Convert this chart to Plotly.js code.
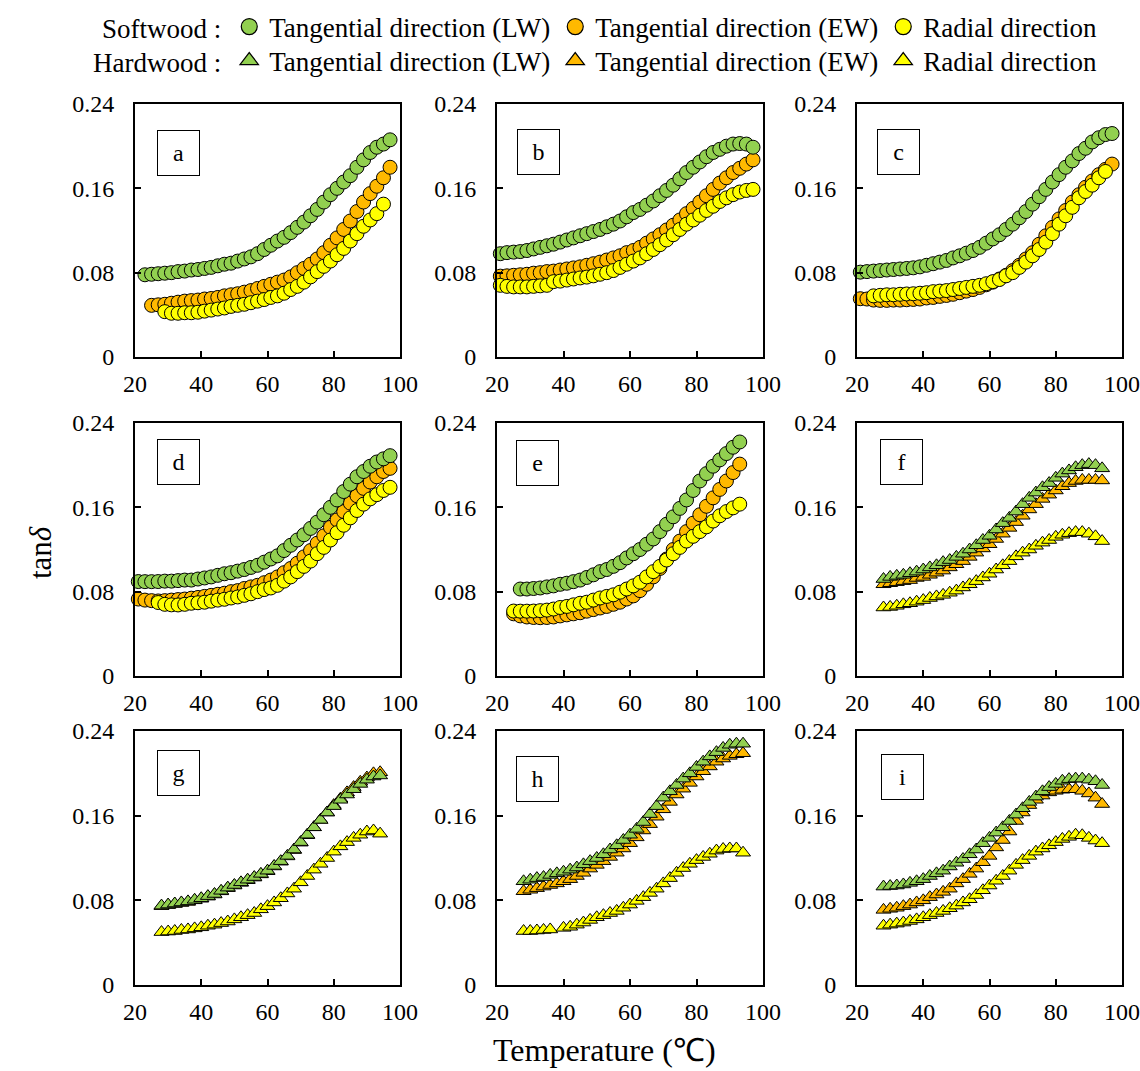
<!DOCTYPE html>
<html><head><meta charset="utf-8">
<script src="https://cdn.plot.ly/plotly-3.0.1.min.js"></script>
<style>html,body{margin:0;padding:0;background:#fff}</style>
</head><body><div id="chart" style="width:1140px;height:1071px"></div>
<script>
// Temperatures (°C)
const T_soft = [21,23,25,27,29,31,33,35,37,39,41,43,45,47,49,51,53,55,57,59,61,63,65,67,69,71,73,75,77,79,81,83,85,87,89,91,93,95,97];
const T_hard = [28,30,32,34,36,38,40,42,44,46,48,50,52,54,56,58,60,62,64,66,68,70,72,74,76,78,80,82,84,86,88,90,92,94];

const panelLabels = ['a','b','c','d','e','f','g','h','i'];
const seriesNames = ['Tangential direction (LW)','Tangential direction (EW)','Radial direction'];
const groupNames = ['Softwood :','Hardwood :'];
const xTicks = [20,40,60,80,100];
const yTicks = [0,0.08,0.16,0.24];
const yTickText = ['0','0.08','0.16','0.24'];

// tanδ values — softwood (circles)
const a_LW = [null,0.078,0.0785,0.079,0.0795,0.080,0.081,0.0815,0.0825,0.083,0.084,0.085,0.0865,0.088,0.089,0.091,0.093,0.095,0.098,0.102,0.106,0.110,0.1135,0.118,0.123,0.128,0.134,0.140,0.147,0.154,0.160,0.166,0.172,0.180,0.187,0.194,0.199,0.202,0.206];
const a_EW = [null,null,0.049,0.0495,0.050,0.051,0.052,0.053,0.0535,0.054,0.055,0.0555,0.0565,0.058,0.059,0.060,0.0615,0.063,0.065,0.067,0.069,0.071,0.073,0.076,0.080,0.084,0.088,0.093,0.099,0.106,0.113,0.121,0.129,0.138,0.147,0.155,0.162,0.170,0.180];
const a_R  = [null,null,null,null,0.043,0.0415,0.0415,0.042,0.042,0.0425,0.0435,0.0445,0.0455,0.0465,0.048,0.049,0.050,0.0515,0.053,0.0545,0.0565,0.058,0.0605,0.064,0.067,0.071,0.076,0.081,0.086,0.091,0.097,0.103,0.110,0.117,0.124,0.130,0.136,0.145,null];

const b_LW = [0.098,0.099,0.0995,0.100,0.101,0.1025,0.104,0.1055,0.107,0.109,0.111,0.113,0.115,0.117,0.119,0.121,0.1235,0.126,0.129,0.133,0.137,0.140,0.144,0.148,0.153,0.158,0.163,0.169,0.175,0.180,0.185,0.190,0.194,0.197,0.200,0.202,0.2025,0.202,0.199];
const b_EW = [0.0767,0.077,0.0775,0.078,0.0785,0.0795,0.080,0.081,0.0815,0.0825,0.0835,0.0845,0.0855,0.087,0.0885,0.090,0.092,0.094,0.096,0.099,0.101,0.104,0.108,0.112,0.116,0.1205,0.125,0.130,0.136,0.141,0.147,0.153,0.159,0.165,0.170,0.175,0.179,0.183,0.187];
const b_R  = [0.068,0.067,0.0665,0.0665,0.0665,0.067,0.0675,0.068,0.0715,0.072,0.073,0.074,0.075,0.0758,0.077,0.0785,0.080,0.082,0.085,0.088,0.091,0.094,0.098,0.102,0.1065,0.111,0.116,0.121,0.126,0.130,0.1345,0.139,0.143,0.1475,0.151,0.154,0.1565,0.158,0.159];

const c_LW = [0.0805,0.081,0.0815,0.082,0.0825,0.083,0.0835,0.084,0.0846,0.0855,0.087,0.0885,0.090,0.0916,0.094,0.096,0.0985,0.101,0.104,0.108,0.112,0.116,0.121,0.126,0.132,0.138,0.145,0.152,0.159,0.166,0.173,0.180,0.186,0.193,0.198,0.204,0.208,0.211,0.212];
const c_EW = [0.0553,0.055,0.054,0.0537,0.0537,0.054,0.054,0.0543,0.0546,0.055,0.056,0.0565,0.0575,0.0584,0.0595,0.061,0.0625,0.064,0.066,0.0685,0.071,0.074,0.0775,0.082,0.087,0.093,0.099,0.107,0.115,0.123,0.131,0.139,0.147,0.154,0.161,0.167,0.173,0.178,0.183];
const c_R  = [null,null,0.058,0.0585,0.059,0.059,0.0595,0.0598,0.060,0.0605,0.061,0.062,0.0625,0.063,0.064,0.065,0.066,0.067,0.068,0.0695,0.0715,0.0735,0.077,0.080,0.085,0.090,0.096,0.102,0.109,0.117,0.126,0.134,0.142,0.151,0.157,0.163,0.170,0.176,null];

const d_LW = [0.0896,0.0895,0.0895,0.0896,0.090,0.090,0.0905,0.091,0.091,0.092,0.093,0.094,0.0955,0.097,0.098,0.0995,0.101,0.103,0.105,0.108,0.111,0.114,0.119,0.124,0.129,0.134,0.140,0.146,0.153,0.160,0.167,0.175,0.182,0.189,0.194,0.199,0.203,0.206,0.209];
const d_EW = [0.073,0.072,0.0715,0.0712,0.0715,0.072,0.0725,0.073,0.0738,0.0745,0.0755,0.0765,0.0775,0.0785,0.080,0.081,0.083,0.0845,0.086,0.0885,0.091,0.094,0.098,0.102,0.107,0.113,0.119,0.126,0.133,0.141,0.148,0.156,0.164,0.171,0.178,0.184,0.189,0.194,0.197];
const d_R  = [null,null,null,0.0697,0.068,0.0675,0.0674,0.068,0.069,0.0695,0.070,0.071,0.072,0.0728,0.074,0.075,0.0765,0.078,0.080,0.082,0.0835,0.086,0.090,0.094,0.099,0.104,0.109,0.116,0.122,0.129,0.136,0.143,0.150,0.157,0.163,0.168,0.172,0.176,0.179];

const e_LW = [null,null,null,0.0825,0.0825,0.083,0.0835,0.0845,0.0855,0.087,0.088,0.0895,0.091,0.0935,0.096,0.099,0.101,0.104,0.1075,0.112,0.116,0.120,0.125,0.130,0.137,0.144,0.151,0.159,0.167,0.176,0.185,0.192,0.199,0.205,0.211,0.217,0.222,null,null];
const e_EW = [null,null,0.059,0.057,0.056,0.0555,0.0553,0.0555,0.056,0.057,0.058,0.059,0.060,0.0615,0.063,0.0645,0.066,0.068,0.070,0.073,0.076,0.081,0.087,0.094,0.102,0.111,0.120,0.128,0.137,0.145,0.153,0.161,0.169,0.177,0.185,0.193,0.201,null,null];
const e_R  = [null,null,0.0616,0.0615,0.0615,0.0616,0.062,0.0625,0.0635,0.065,0.066,0.0675,0.069,0.070,0.072,0.074,0.0755,0.077,0.0795,0.0825,0.0855,0.089,0.094,0.099,0.104,0.110,0.116,0.122,0.128,0.1325,0.137,0.1415,0.147,0.152,0.156,0.1595,0.163,null,null];

// tanδ values — hardwood (triangles)
const f_LW = [0.092,0.094,0.095,0.096,0.0975,0.099,0.101,0.103,0.105,0.108,0.110,0.113,0.116,0.120,0.124,0.129,0.133,0.139,0.145,0.150,0.156,0.163,0.169,0.174,0.179,0.183,0.188,0.192,0.195,0.198,0.200,0.201,0.200,0.197];
const f_EW = [0.087,0.088,0.089,0.090,0.091,0.093,0.094,0.096,0.098,0.100,0.103,0.106,0.109,0.113,0.117,0.121,0.125,0.130,0.135,0.1405,0.146,0.152,0.158,0.163,0.168,0.172,0.176,0.180,0.183,0.185,0.186,0.186,0.186,0.1855];
const f_R  = [0.065,0.0655,0.0666,0.068,0.069,0.0705,0.072,0.074,0.0755,0.077,0.079,0.081,0.084,0.087,0.090,0.0935,0.097,0.101,0.105,0.109,0.1135,0.117,0.120,0.1235,0.1265,0.129,0.132,0.134,0.1355,0.1365,0.1365,0.135,0.1325,0.128];

const g_LW = [0.075,0.076,0.077,0.078,0.079,0.0805,0.082,0.084,0.086,0.089,0.092,0.0945,0.097,0.0995,0.102,0.105,0.108,0.1125,0.117,0.122,0.128,0.135,0.142,0.149,0.156,0.163,0.169,0.175,0.180,0.185,0.190,0.194,0.197,0.198];
const g_EW = [0.0745,0.0755,0.0765,0.0775,0.0785,0.080,0.0815,0.0835,0.0855,0.0885,0.0915,0.094,0.0965,0.099,0.1015,0.1045,0.1075,0.112,0.1165,0.1215,0.1275,0.1345,0.1415,0.149,0.156,0.163,0.170,0.176,0.182,0.187,0.192,0.196,0.200,0.201];
const g_R  = [0.050,0.0505,0.051,0.052,0.0525,0.0535,0.0545,0.056,0.057,0.0585,0.060,0.062,0.064,0.066,0.068,0.0715,0.0745,0.078,0.082,0.0865,0.091,0.097,0.103,0.109,0.1145,0.120,0.126,0.131,0.135,0.139,0.142,0.145,0.146,0.143];

const h_LW = [0.098,0.0995,0.101,0.102,0.104,0.1055,0.107,0.109,0.111,0.114,0.117,0.120,0.1235,0.128,0.132,0.137,0.142,0.1475,0.154,0.1615,0.169,0.177,0.183,0.189,0.195,0.200,0.206,0.211,0.216,0.220,0.224,0.227,0.228,0.228];
const h_EW = [0.0886,0.090,0.0915,0.093,0.0945,0.096,0.098,0.100,0.103,0.106,0.110,0.1135,0.117,0.121,0.125,0.129,0.134,0.1395,0.146,0.152,0.159,0.166,0.173,0.180,0.1855,0.191,0.197,0.202,0.2065,0.211,0.214,0.2165,0.218,0.219];
const h_R  = [0.051,0.051,0.0515,0.052,0.0525,null,0.054,0.055,0.057,0.059,0.0615,0.064,0.066,0.068,0.070,0.073,0.076,0.0795,0.083,0.087,0.091,0.096,0.101,0.106,0.1105,0.1145,0.118,0.121,0.124,0.127,0.1285,0.129,0.129,0.125];

const i_LW = [0.093,0.0935,0.094,0.095,0.0965,0.098,0.100,0.103,0.1055,0.108,0.112,0.1155,0.119,0.1235,0.128,0.134,0.139,0.144,0.149,0.155,0.161,0.167,0.173,0.178,0.183,0.187,0.190,0.193,0.1945,0.195,0.195,0.194,0.1925,0.189];
const i_EW = [0.071,0.072,0.073,0.0745,0.076,0.078,0.080,0.083,0.0855,0.088,0.091,0.096,0.100,0.105,0.110,0.116,0.122,0.130,0.137,0.145,0.155,0.163,0.170,0.175,0.179,0.182,0.1835,0.1845,0.185,0.185,0.1835,0.181,0.177,0.171];
const i_R  = [0.056,0.057,0.058,0.059,0.0605,0.062,0.064,0.066,0.068,0.070,0.0725,0.075,0.078,0.081,0.085,0.0895,0.094,0.0985,0.103,0.108,0.1135,0.118,0.122,0.126,0.129,0.132,0.135,0.138,0.140,0.142,0.1415,0.139,0.1365,0.134];

// ---- build figure ----
const panels = [
  {T:T_soft, LW:a_LW, EW:a_EW, R:a_R, wood:0},
  {T:T_soft, LW:b_LW, EW:b_EW, R:b_R, wood:0},
  {T:T_soft, LW:c_LW, EW:c_EW, R:c_R, wood:0},
  {T:T_soft, LW:d_LW, EW:d_EW, R:d_R, wood:0},
  {T:T_soft, LW:e_LW, EW:e_EW, R:e_R, wood:0},
  {T:T_hard, LW:f_LW, EW:f_EW, R:f_R, wood:1},
  {T:T_hard, LW:g_LW, EW:g_EW, R:g_R, wood:1},
  {T:T_hard, LW:h_LW, EW:h_EW, R:h_R, wood:1},
  {T:T_hard, LW:i_LW, EW:i_EW, R:i_R, wood:1}
];
const COL = {LW:'#92D050', EW:'#FFB900', R:'#FFFF00'};
const SYM = ['circle','triangle-up'];
const MSIZE = [14, 13];
const FONT = '"Liberation Serif", "Times New Roman", serif';

const traces = [];
panels.forEach((p, k) => {
  const ax = k === 0 ? '' : String(k + 1);
  ['EW','R','LW'].forEach(key => {
    traces.push({
      type:'scatter', mode:'markers', x:p.T, y:p[key],
      xaxis:'x'+ax, yaxis:'y'+ax, showlegend:false, cliponaxis:false,
      hoverinfo:'x+y',
      marker:{symbol:SYM[p.wood], size:MSIZE[p.wood], color:COL[key], line:{color:'#000', width:1}}
    });
  });
});
// legend entries
[0,1].forEach(w => {
  ['LW','EW','R'].forEach((key, j) => {
    traces.push({
      type:'scatter', mode:'markers', x:[null], y:[null], xaxis:'x', yaxis:'y',
      name:seriesNames[j], legend: w === 0 ? 'legend' : 'legend2', showlegend:true,
      marker:{symbol:SYM[w], size:18, color:COL[key], line:{color:'#000', width:1.2}}
    });
  });
});

const colX = [[135,400],[497,763],[857,1122]];
const rowY = [[104,357],[423,676],[731,985]];
const W = 1140, H = 1071;
const boxPos = [[0.166,0.808],[0.157,0.81],[0.155,0.812],[0.166,0.846],[0.151,0.842],[0.168,0.844],[0.166,0.836],[0.151,0.812],[0.17,0.819]];

const legendCommon = {orientation:'h', xanchor:'right', yanchor:'middle', bgcolor:'rgba(0,0,0,0)',
  itemwidth:30, tracegroupgap:0, font:{family:FONT, size:27, color:'#000'}};

const layout = {
  width:W, height:H, margin:{l:0,r:0,t:0,b:0},
  paper_bgcolor:'#fff', plot_bgcolor:'#fff',
  font:{family:FONT, size:24, color:'#000'},
  showlegend:true,
  annotations:[],
  legend:Object.assign({}, legendCommon, {x:1102/W, y:1-27/H,
          title:{text:groupNames[0], side:'left', font:{family:FONT,size:27,color:'#000'}}}),
  legend2:Object.assign({}, legendCommon, {x:1102/W, y:1-61/H,
          title:{text:groupNames[1], side:'left', font:{family:FONT,size:27,color:'#000'}}})
};

panels.forEach((p, k) => {
  const r = Math.floor(k / 3), c = k % 3;
  const ax = k === 0 ? '' : String(k + 1);
  layout['xaxis' + ax] = {
    domain:[colX[c][0]/W, colX[c][1]/W], anchor:'y'+ax, range:[20,100],
    tickvals:xTicks, ticks:'inside', ticklen:6, tickwidth:1.5, tickcolor:'#000',
    showline:true, mirror:true, linecolor:'#000', linewidth:2, showgrid:false, zeroline:false,
    tickfont:{family:FONT, size:24, color:'#000'}, ticklabelstandoff:4, fixedrange:true
  };
  layout['yaxis' + ax] = {
    domain:[1 - rowY[r][1]/H, 1 - rowY[r][0]/H], anchor:'x'+ax, range:[0,0.24],
    tickvals:yTicks, ticktext:yTickText, ticks:'inside', ticklen:6, tickwidth:1.5, tickcolor:'#000',
    showline:true, mirror:true, linecolor:'#000', linewidth:2, showgrid:false, zeroline:false,
    tickfont:{family:FONT, size:24, color:'#000'}, ticklabelstandoff:14, fixedrange:true
  };
  layout.annotations.push({
    xref:'x'+ax+' domain', yref:'y'+ax+' domain', x:boxPos[k][0], y:boxPos[k][1],
    xanchor:'center', yanchor:'middle', text:panelLabels[k], showarrow:false,
    font:{family:FONT, size:24, color:'#000'}, bgcolor:'#fff',
    bordercolor:'#000', borderwidth:1, borderpad:1, width:39, height:42
  });
});

layout.annotations.push({
  xref:'paper', yref:'paper', x:40/W, y:1-553/H, xanchor:'center', yanchor:'middle',
  text:'tan<i>δ</i>', textangle:-90, showarrow:false, font:{family:FONT, size:31, color:'#000'}
});
layout.annotations.push({
  xref:'paper', yref:'paper', x:604/W, y:1-1050/H, xanchor:'center', yanchor:'middle',
  text:'Temperature (℃)', showarrow:false, font:{family:FONT, size:32, color:'#000'}
});

Plotly.newPlot('chart', traces, layout, {displayModeBar:false});
</script></body></html>
